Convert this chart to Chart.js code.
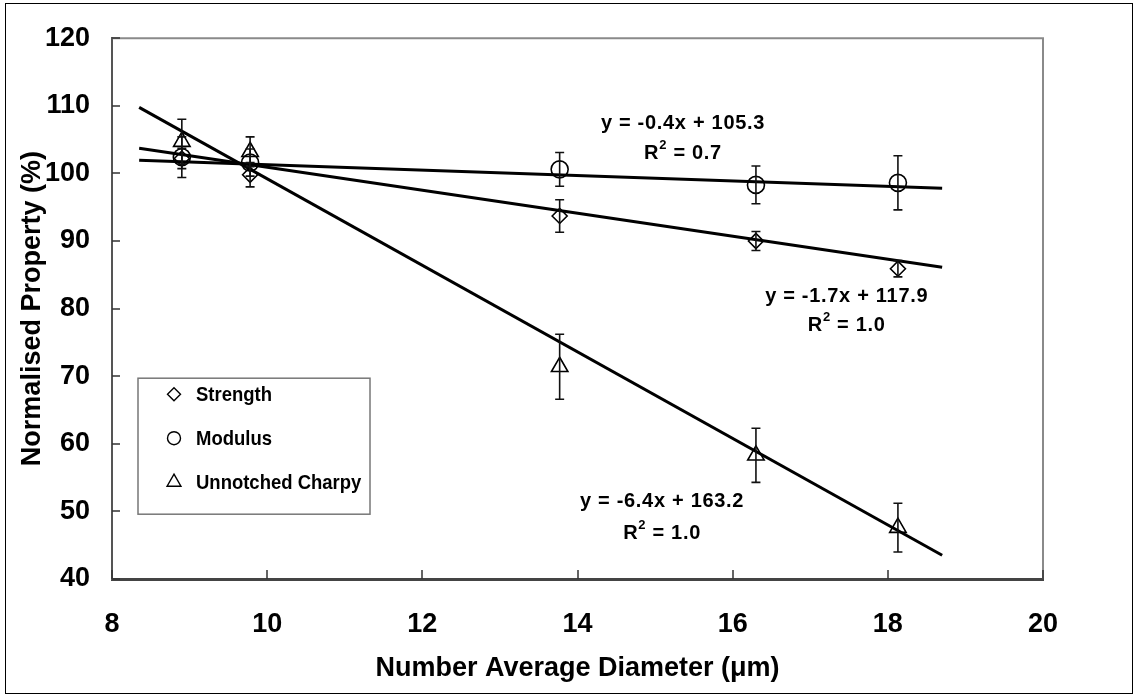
<!DOCTYPE html>
<html>
<head>
<meta charset="utf-8">
<script src="https://cdn.jsdelivr.net/npm/chart.js@4.4.0/dist/chart.umd.min.js"></script>
<style>
  html, body { margin: 0; padding: 0; background: #fff; }
  canvas { display: block; }
</style>
</head>
<body>
<canvas id="propertyChart" width="1138" height="696"></canvas>
<script>
const diameters = [8.9, 9.78, 13.77, 16.3, 18.13];
const seriesNames = ["Strength", "Modulus", "Unnotched Charpy"];

const strength = [102.2, 99.8, 93.7, 90.0, 85.9];
const strengthErr = [1.5, 1.8, 2.4, 1.4, 1.2];
const modulus = [102.4, 101.6, 100.6, 98.3, 98.6];
const modulusErr = [3.0, 2.0, 2.5, 2.8, 4.0];
const charpy = [104.7, 103.2, 71.4, 58.3, 47.6];
const charpyErr = [3.3, 2.2, 4.8, 4.0, 3.6];

// linear fits, y = slope * x + intercept
const slopes = [-1.7, -0.4, -6.4];
const intercepts = [117.9, 105.3, 163.2];
const rSquared = ["1.0", "0.7", "1.0"];
const fitRange = [8.35, 18.7];

const xTicks = [8, 10, 12, 14, 16, 18, 20];
const yTicks = [40, 50, 60, 70, 80, 90, 100, 110, 120];

const FONT = "'Liberation Sans', Arial, Helvetica, sans-serif";
const markers = ["rectRot", "circle", "triangle"];
const markerRadius = [7.5, 8.5, 9.5];

const toPoints = (vals, errs) =>
  diameters.map((x, i) => ({ x, y: vals[i], err: errs[i] }));

const pointSets = [
  toPoints(strength, strengthErr),
  toPoints(modulus, modulusErr),
  toPoints(charpy, charpyErr),
];

const fitLine = (k) =>
  fitRange.map((x) => ({ x, y: slopes[k] * x + intercepts[k] }));

const fmt = (v) => (v < 0 ? "-" : "") + Math.abs(v).toFixed(1);

// where each fit equation is written, in axis units
const eqAnchors = [
  { x: 17.47, y: 81.8, r2y: 77.5 },
  { x: 15.36, y: 107.4, r2y: 103.0 },
  { x: 15.09, y: 51.4, r2y: 46.8 },
];

const datasets = [];
pointSets.forEach((pts, k) => {
  datasets.push({
    label: seriesNames[k],
    data: pts,
    showLine: false,
    pointStyle: markers[k],
    pointRadius: markerRadius[k],
    pointBackgroundColor: "rgba(0,0,0,0)",
    pointBorderColor: "#000",
    pointBorderWidth: 1.6,
    errorBars: true,
  });
});
slopes.forEach((s, k) => {
  datasets.push({
    label: "fit " + seriesNames[k],
    data: fitLine(k),
    showLine: true,
    borderColor: "#000",
    borderWidth: 3,
    pointRadius: 0,
  });
});

const frame = {
  id: "frame",
  beforeDraw(chart) {
    const { ctx } = chart;
    ctx.save();
    ctx.strokeStyle = "#000";
    ctx.lineWidth = 1;
    ctx.strokeRect(5.5, 3.5, 1127, 690);
    ctx.restore();
  },
  afterDraw(chart) {
    const { ctx, chartArea: a, scales } = chart;
    ctx.save();
    // grey box on the top and right of the plot
    ctx.strokeStyle = "#8a8a8a";
    ctx.lineWidth = 2;
    ctx.beginPath();
    ctx.moveTo(a.left, a.top);
    ctx.lineTo(a.right, a.top);
    ctx.lineTo(a.right, a.bottom);
    ctx.stroke();
    // inward tick marks
    ctx.strokeStyle = "#333";
    ctx.lineWidth = 1.5;
    ctx.beginPath();
    xTicks.forEach((v) => {
      const px = Math.round(scales.x.getPixelForValue(v));
      ctx.moveTo(px, a.bottom);
      ctx.lineTo(px, a.bottom - 9);
    });
    yTicks.forEach((v) => {
      const py = Math.round(scales.y.getPixelForValue(v));
      ctx.moveTo(a.left, py);
      ctx.lineTo(a.left + 8, py);
    });
    ctx.stroke();
    ctx.restore();
  },
};

const errorBars = {
  id: "errorBars",
  afterDatasetsDraw(chart) {
    const { ctx, scales } = chart;
    ctx.save();
    ctx.strokeStyle = "#111";
    ctx.lineWidth = 1.6;
    chart.data.datasets.forEach((ds) => {
      if (!ds.errorBars) return;
      ds.data.forEach((p) => {
        const x = scales.x.getPixelForValue(p.x);
        const top = scales.y.getPixelForValue(p.y + p.err);
        const bot = scales.y.getPixelForValue(p.y - p.err);
        ctx.beginPath();
        ctx.moveTo(x, top);
        ctx.lineTo(x, bot);
        ctx.moveTo(x - 4.5, top);
        ctx.lineTo(x + 4.5, top);
        ctx.moveTo(x - 4.5, bot);
        ctx.lineTo(x + 4.5, bot);
        ctx.stroke();
      });
    });
    ctx.restore();
  },
};

const equations = {
  id: "equations",
  afterDraw(chart) {
    const { ctx, scales } = chart;
    ctx.save();
    ctx.fillStyle = "#000";
    ctx.textBaseline = "middle";
    ctx.textAlign = "left";
    if ("letterSpacing" in ctx) ctx.letterSpacing = "0.7px";
    const main = "bold 20px " + FONT;
    const sup = "bold 13px " + FONT;
    slopes.forEach((s, k) => {
      const an = eqAnchors[k];
      const cx = scales.x.getPixelForValue(an.x);
      const eq = "y = " + fmt(s) + "x + " + fmt(intercepts[k]);
      ctx.font = main;
      let w = ctx.measureText(eq).width;
      ctx.fillText(eq, cx - w / 2, scales.y.getPixelForValue(an.y));

      const ry = scales.y.getPixelForValue(an.r2y);
      const rest = " = " + rSquared[k];
      ctx.font = main;
      const wR = ctx.measureText("R").width;
      const wRest = ctx.measureText(rest).width;
      ctx.font = sup;
      const w2 = ctx.measureText("2").width;
      let x = cx - (wR + w2 + wRest) / 2;
      ctx.font = main;
      ctx.fillText("R", x, ry);
      x += wR;
      ctx.font = sup;
      ctx.fillText("2", x, ry - 8);
      x += w2;
      ctx.font = main;
      ctx.fillText(rest, x, ry);
    });
    ctx.restore();
  },
};

function drawMarker(ctx, style, x, y, r) {
  ctx.beginPath();
  if (style === "rectRot") {
    ctx.moveTo(x, y - r);
    ctx.lineTo(x + r, y);
    ctx.lineTo(x, y + r);
    ctx.lineTo(x - r, y);
    ctx.closePath();
  } else if (style === "circle") {
    ctx.arc(x, y, r, 0, Math.PI * 2);
  } else {
    const h = r * 0.5;
    ctx.moveTo(x, y - r);
    ctx.lineTo(x + r * 0.866, y + h);
    ctx.lineTo(x - r * 0.866, y + h);
    ctx.closePath();
  }
  ctx.stroke();
}

const boxLegend = {
  id: "boxLegend",
  afterDraw(chart) {
    const { ctx, chartArea: a } = chart;
    const left = a.left + 26;
    const top = a.top + 340;
    ctx.save();
    ctx.fillStyle = "#fff";
    ctx.fillRect(left, top, 232, 136);
    ctx.strokeStyle = "#777";
    ctx.lineWidth = 1.5;
    ctx.strokeRect(left, top, 232, 136);
    ctx.strokeStyle = "#000";
    ctx.lineWidth = 1.4;
    ctx.fillStyle = "#000";
    ctx.font = "bold 21px " + FONT;
    ctx.textBaseline = "middle";
    seriesNames.forEach((name, k) => {
      const y = top + 16 + k * 44;
      drawMarker(ctx, markers[k], left + 36, y, [6.5, 6.5, 8][k]);
      // slightly condensed labels so the longest one fits the box
      ctx.save();
      ctx.translate(left + 58, y + 1);
      ctx.scale(0.88, 1);
      ctx.fillText(name, 0, 0);
      ctx.restore();
    });
    ctx.restore();
  },
};

new Chart(document.getElementById("propertyChart"), {
  type: "scatter",
  data: { datasets },
  options: {
    responsive: false,
    animation: false,
    layout: { padding: { left: 0, top: 38, right: 95, bottom: 0 } },
    plugins: {
      legend: { display: false },
      tooltip: { enabled: false },
    },
    scales: {
      x: {
        type: "linear",
        min: 8,
        max: 20,
        afterBuildTicks: (s) => { s.ticks = xTicks.map((value) => ({ value })); },
        afterFit: (s) => { s.height = 117; },
        grid: { display: false, drawTicks: false },
        border: { display: true, color: "#444", width: 3 },
        ticks: { color: "#000", padding: 29, font: { family: FONT, size: 27, weight: "bold" } },
        title: {
          display: true,
          text: "Number Average Diameter (\u03bcm)",
          color: "#000",
          font: { family: FONT, size: 27, weight: "bold" },
          padding: { top: 0, bottom: 11 },
        },
      },
      y: {
        type: "linear",
        min: 40,
        max: 120,
        afterBuildTicks: (s) => { s.ticks = yTicks.map((value) => ({ value })); },
        afterFit: (s) => { s.width = 112; },
        grid: { display: false, drawTicks: false },
        border: { display: true, color: "#555", width: 2 },
        ticks: { color: "#000", padding: 22, font: { family: FONT, size: 27, weight: "bold" } },
        title: {
          display: true,
          text: "Normalised Property (%)",
          color: "#000",
          font: { family: FONT, size: 27, weight: "bold" },
          padding: { top: 16, bottom: 0 },
        },
      },
    },
  },
  plugins: [frame, errorBars, equations, boxLegend],
});
</script>
</body>
</html>
